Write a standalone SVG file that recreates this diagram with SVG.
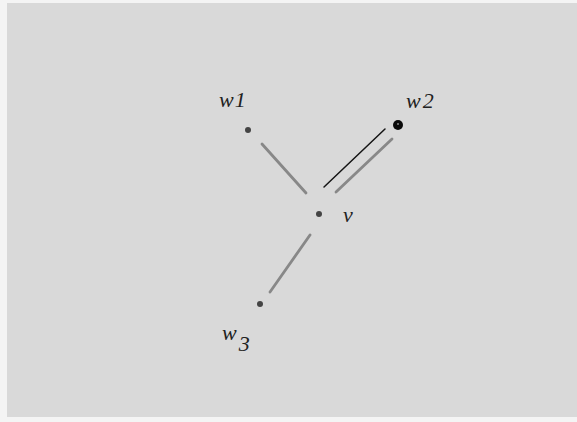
<svg xmlns="http://www.w3.org/2000/svg" width="577" height="422" viewBox="0 0 577 422">
<style>
.lbl{font-family:"Liberation Serif","DejaVu Serif",serif;font-style:italic;font-size:22px;fill:#222}
.edge{stroke:#888;stroke-width:2.8;stroke-linecap:round;fill:none}
.dark{stroke:#151515;stroke-width:1.5;stroke-linecap:round;fill:none}
.dot{fill:#444}
</style>
<rect x="0" y="0" width="577" height="422" fill="#f4f4f4"/>
<rect x="7" y="3" width="570" height="414" fill="#d9d9d9"/>
<g id="connectors">
<line class="edge" x1="262" y1="144" x2="306" y2="193"/>
<line class="dark" x1="385" y1="129" x2="324" y2="187"/>
<line class="edge" x1="392" y1="139" x2="336" y2="192"/>
<line class="edge" x1="310" y1="235" x2="270" y2="292"/>
</g>
<g id="w1">
<circle class="dot" cx="248" cy="130" r="3"/>
<text class="lbl" x="219" y="107" letter-spacing="1">w1</text>
</g>
<g id="w2">
<circle cx="398" cy="125" r="5" fill="#0a0a0a"/>
<circle cx="398" cy="124" r="1" fill="#888"/>
<text class="lbl" x="406" y="108" letter-spacing="2">w2</text>
</g>
<g id="v">
<circle class="dot" cx="319" cy="214" r="3"/>
<text class="lbl" x="343" y="222">v</text>
</g>
<g id="w3">
<circle class="dot" cx="260" cy="304" r="3"/>
<text class="lbl" x="222" y="340">w<tspan dx="2" dy="11">3</tspan></text>
</g>
</svg>
